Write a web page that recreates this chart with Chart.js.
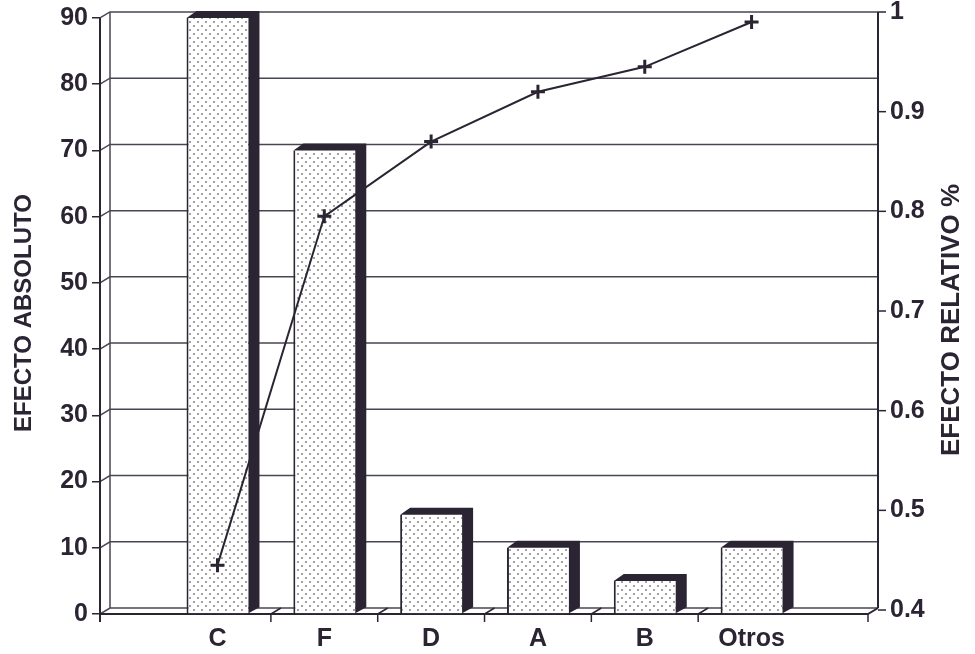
<!DOCTYPE html>
<html>
<head>
<meta charset="utf-8">
<script src="https://cdn.jsdelivr.net/npm/chart.js@4"></script>
<style>
  html, body { margin: 0; padding: 0; background: #fff; }
  #wrap { width: 975px; height: 654px; position: relative; }
</style>
</head>
<body>
<div id="wrap"><canvas id="pareto"></canvas></div>
<script>
// data
const categories = ['C', 'F', 'D', 'A', 'B', 'Otros'];
const efectoAbsoluto = [90, 70, 15, 10, 5, 10];
const efectoRelativo = [0.445, 0.795, 0.87, 0.92, 0.945, 0.99];
const leftTicks = [0, 10, 20, 30, 40, 50, 60, 70, 80, 90];
const rightTicks = [0.4, 0.5, 0.6, 0.7, 0.8, 0.9, 1];

const INK = '#2b2433';
const LINE = '#4a4552';
const FONT = '"Liberation Sans", Arial, sans-serif';
const DX = 10, DY = -6; // depth of the 3d back wall

// dotted fill for the bar fronts
function dotPattern() {
  const c = document.createElement('canvas');
  c.width = 8; c.height = 8;
  const g = c.getContext('2d');
  g.fillStyle = '#fff';
  g.fillRect(0, 0, 8, 8);
  g.fillStyle = '#a2a2a2';
  g.fillRect(1, 1, 2, 2);
  g.fillRect(5, 5, 2, 2);
  return g.createPattern(c, 'repeat');
}

// back wall, floor and axes drawn behind the bars
const wallPlugin = {
  id: 'wall',
  beforeDatasetsDraw(chart) {
    const ctx = chart.ctx;
    const y = chart.scales.y, y1 = chart.scales.y1, x = chart.scales.x;
    const left = chart.chartArea.left, right = chart.chartArea.right;
    ctx.save();
    ctx.strokeStyle = LINE;
    ctx.lineWidth = 1.5;
    leftTicks.forEach(v => {
      const py = y.getPixelForValue(v);
      ctx.beginPath();
      ctx.moveTo(left, py);
      ctx.lineTo(left + DX, py + DY);
      ctx.lineTo(right + DX, py + DY);
      ctx.stroke();
    });
    const top = y.getPixelForValue(90), bot = y.getPixelForValue(0);
    ctx.beginPath();
    ctx.moveTo(left + DX, top + DY);
    ctx.lineTo(left + DX, bot + DY);
    ctx.stroke();
    // left axis
    ctx.strokeStyle = INK;
    ctx.lineWidth = 2;
    ctx.beginPath();
    ctx.moveTo(left, top);
    ctx.lineTo(left, bot + 8);
    ctx.stroke();
    // front edge of floor
    ctx.beginPath();
    ctx.moveTo(left, bot);
    ctx.lineTo(right, bot);
    ctx.lineTo(right + DX, bot + DY);
    ctx.stroke();
    // category dividers
    ctx.lineWidth = 1.5;
    [1.5, 2.5, 3.5, 4.5, 5.5].forEach(v => {
      const px = x.getPixelForValue(v);
      ctx.beginPath();
      ctx.moveTo(px, bot + 8);
      ctx.lineTo(px, bot);
      ctx.lineTo(px + DX, bot + DY);
      ctx.stroke();
    });
    ctx.beginPath();
    ctx.moveTo(right, bot);
    ctx.lineTo(right, bot + 8);
    ctx.stroke();
    // right axis on the back wall
    const rx = right + DX;
    ctx.lineWidth = 2;
    ctx.beginPath();
    ctx.moveTo(rx, y1.getPixelForValue(1));
    ctx.lineTo(rx, bot + DY);
    ctx.stroke();
    ctx.lineWidth = 1.5;
    rightTicks.forEach(v => {
      const py = y1.getPixelForValue(v);
      ctx.beginPath();
      ctx.moveTo(rx, py);
      ctx.lineTo(rx + 8, py);
      ctx.stroke();
    });
    ctx.restore();
  },
  afterDatasetDraw(chart, args) {
    if (args.index !== 0) return;
    const ctx = chart.ctx;
    ctx.save();
    ctx.fillStyle = INK;
    args.meta.data.forEach(bar => {
      const p = bar.getProps(['x', 'y', 'base', 'width'], true);
      const x0 = p.x - p.width / 2, x1 = p.x + p.width / 2;
      ctx.beginPath();
      ctx.moveTo(x0, p.y);
      ctx.lineTo(x0 + DX, p.y + DY - 1);
      ctx.lineTo(x1 + DX + 1, p.y + DY - 1);
      ctx.lineTo(x1 + DX + 1, p.base + DY);
      ctx.lineTo(x1, p.base);
      ctx.lineTo(x1, p.y);
      ctx.closePath();
      ctx.fill();
    });
    ctx.restore();
  },
  afterDraw(chart) {
    const ctx = chart.ctx;
    ctx.save();
    ctx.translate(952, 320);
    ctx.rotate(-Math.PI / 2);
    ctx.font = 'bold 26px ' + FONT;
    ctx.fillStyle = INK;
    ctx.textAlign = 'center';
    ctx.textBaseline = 'middle';
    ctx.fillText('EFECTO RELATIVO %', 0, 0);
    ctx.restore();
  }
};

function noPad(scale) {
  scale.paddingTop = 0;
  scale.paddingBottom = 0;
  scale.paddingLeft = 0;
  scale.paddingRight = 0;
}

new Chart(document.getElementById('pareto'), {
  type: 'bar',
  data: {
    datasets: [
      {
        label: 'Efecto absoluto',
        data: efectoAbsoluto.map((v, i) => ({ x: i + 1, y: v })),
        backgroundColor: dotPattern(),
        borderColor: INK,
        borderWidth: { left: 2, top: 0, right: 0, bottom: 0 },
        barPercentage: 0.58,
        categoryPercentage: 1,
        yAxisID: 'y',
        order: 1
      },
      {
        type: 'line',
        label: 'Efecto relativo',
        data: efectoRelativo.map((v, i) => ({ x: i + 1, y: v })),
        borderColor: INK,
        borderWidth: 2,
        pointStyle: 'cross',
        pointRadius: 7,
        pointBorderWidth: 3,
        pointBorderColor: INK,
        tension: 0,
        yAxisID: 'y1',
        order: 0
      }
    ]
  },
  options: {
    responsive: true,
    maintainAspectRatio: false,
    animation: false,
    layout: { padding: { top: 12, left: 0, right: 0, bottom: 0 } },
    plugins: {
      legend: { display: false },
      tooltip: { enabled: false }
    },
    scales: {
      x: {
        type: 'linear',
        offset: false,
        min: -0.1,
        max: 7.09,
        grid: { display: false, drawTicks: false },
        border: { display: false },
        afterBuildTicks: s => { s.ticks = categories.map((c, i) => ({ value: i + 1 })); },
        afterFit: s => { s.height = 40; noPad(s); },
        ticks: {
          padding: 10,
          color: INK,
          font: { family: FONT, size: 25, weight: 'bold' },
          callback: v => categories[v - 1]
        }
      },
      y: {
        position: 'left',
        min: 0,
        max: 90.9,
        grid: { drawOnChartArea: false, drawTicks: true, tickLength: 8, color: INK, lineWidth: 1.5 },
        border: { display: false },
        afterBuildTicks: s => { s.ticks = leftTicks.map(v => ({ value: v })); },
        afterFit: s => { s.width = 100; noPad(s); },
        ticks: {
          padding: 4,
          color: INK,
          font: { family: FONT, size: 25, weight: 'bold' }
        },
        title: {
          display: true,
          text: 'EFECTO ABSOLUTO',
          color: INK,
          padding: { top: 10, bottom: 0 },
          font: { family: FONT, size: 24, weight: 'bold' }
        }
      },
      y1: {
        position: 'right',
        min: 0.396,
        max: 1,
        grid: { display: false, drawTicks: false },
        border: { display: false },
        afterBuildTicks: s => { s.ticks = rightTicks.map(v => ({ value: v })); },
        afterFit: s => { s.width = 107; noPad(s); },
        ticks: {
          padding: 22,
          color: INK,
          font: { family: FONT, size: 25, weight: 'bold' },
          callback: v => (v === 1 ? '1' : v.toFixed(1))
        }
      }
    }
  },
  plugins: [wallPlugin]
});
</script>
</body>
</html>
